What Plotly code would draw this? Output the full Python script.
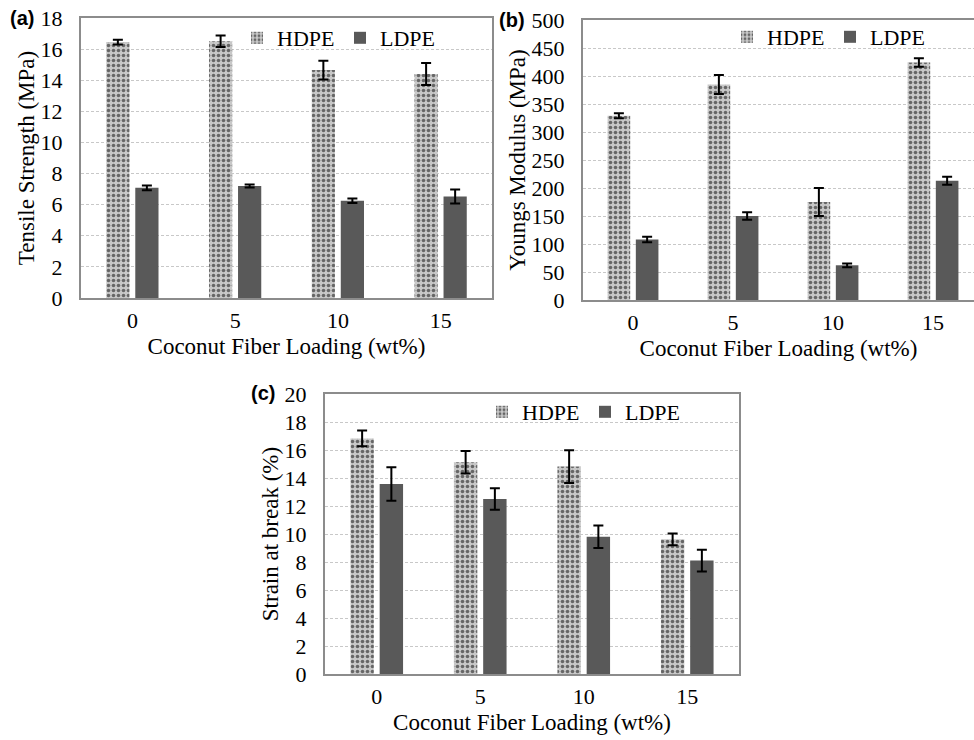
import plotly.graph_objects as go

categories = ["0", "5", "10", "15"]

# (a) Tensile strength (MPa)
ts_hdpe = [16.45, 16.5, 14.65, 14.4]
ts_hdpe_err = [0.15, 0.37, 0.6, 0.7]
ts_ldpe = [7.08, 7.2, 6.25, 6.52]
ts_ldpe_err = [0.16, 0.1, 0.15, 0.45]

# (b) Youngs modulus (MPa)
ym_hdpe = [329, 385, 175, 424]
ym_hdpe_err = [4.5, 17, 25, 7.5]
ym_ldpe = [108, 150, 62, 213]
ym_ldpe_err = [5, 6.5, 3.3, 7]

# (c) Strain at break (%)
sb_hdpe = [16.83, 15.12, 14.82, 9.62]
sb_hdpe_err = [0.56, 0.8, 1.17, 0.42]
sb_ldpe = [13.57, 12.5, 9.8, 8.1]
sb_ldpe_err = [1.2, 0.76, 0.8, 0.78]

FONT = "Liberation Serif, Times New Roman, serif"
HDPE_COLOR = "#c8c8c8"
HDPE_FG = "#666666"
LDPE_COLOR = "#595959"
AXIS_COLOR = "#8c8c8c"
GRID_COLOR = "#c8c8c8"

W, H = 974, 740


def px_x(a, b):
    return [a / W, min(b / W, 1.0)]


def px_y(top, bottom):
    return [1 - bottom / H, 1 - top / H]


fig = go.Figure()

panels = [
    ("x", "y", "legend", ts_hdpe, ts_hdpe_err, ts_ldpe, ts_ldpe_err),
    ("x2", "y2", "legend2", ym_hdpe, ym_hdpe_err, ym_ldpe, ym_ldpe_err),
    ("x3", "y3", "legend3", sb_hdpe, sb_hdpe_err, sb_ldpe, sb_ldpe_err),
]

for xa, ya, lg, h, he, l, le in panels:
    fig.add_trace(go.Bar(
        x=categories, y=h, name="HDPE", xaxis=xa, yaxis=ya, legend=lg,
        marker=dict(color=HDPE_COLOR, line=dict(width=0),
                    pattern=dict(shape=".", fgcolor=HDPE_FG, bgcolor=HDPE_COLOR,
                                 size=5, solidity=0.4, fillmode="replace")),
        error_y=dict(type="data", array=he, color="black", thickness=2, width=5),
    ))
    fig.add_trace(go.Bar(
        x=categories, y=l, name="LDPE", xaxis=xa, yaxis=ya, legend=lg,
        marker=dict(color=LDPE_COLOR, line=dict(width=0)),
        error_y=dict(type="data", array=le, color="black", thickness=2, width=5),
    ))

tick_font = dict(family=FONT, size=22, color="black")
title_font = dict(family=FONT, size=23, color="black")


def xaxis_cfg(domain, anchor, rng, title, mirror=True):
    return dict(domain=domain, anchor=anchor, type="category", range=rng,
                showline=True, linecolor=AXIS_COLOR, linewidth=2, mirror=mirror,
                showgrid=False, ticks="", tickfont=tick_font, automargin=False,
                ticklabelstandoff=2,
                title=dict(text=title, font=title_font, standoff=5),
                fixedrange=True)


def yaxis_cfg(domain, anchor, rng, dtick, title, mirror=True):
    return dict(domain=domain, anchor=anchor, range=rng, dtick=dtick,
                showline=True, linecolor=AXIS_COLOR, linewidth=2, mirror=mirror,
                showgrid=True, gridcolor=GRID_COLOR, griddash="3px,2px", gridwidth=1,
                zeroline=False, ticks="", tickfont=tick_font, automargin=False,
                ticklabelstandoff=12,
                title=dict(text=title, font=title_font, standoff=0),
                fixedrange=True)


xt = "Coconut Fiber Loading (wt%)"
leg_font = dict(family=FONT, size=22, color="black")

fig.update_layout(
    width=W, height=H,
    margin=dict(l=0, r=0, t=0, b=0, autoexpand=False),
    paper_bgcolor="white", plot_bgcolor="white",
    barmode="group", bargap=0.435, bargroupgap=0.2,
    font=dict(family=FONT, color="black"),
    xaxis=xaxis_cfg(px_x(81, 492), "y", [-0.5, 3.5], xt),
    yaxis=yaxis_cfg(px_y(18, 298), "x", [0, 18], 2, "Tensile Strength (MPa)"),
    xaxis2=xaxis_cfg(px_x(583, 974), "y2", [-0.5, 3.41], xt),
    yaxis2=yaxis_cfg(px_y(20, 300), "x2", [0, 500], 50, "Youngs Modulus (MPa)", mirror=False),
    xaxis3=xaxis_cfg(px_x(325, 739), "y3", [-0.5, 3.5], xt),
    yaxis3=yaxis_cfg(px_y(394, 674), "x3", [0, 20], 2, "Strain at break (%)"),
    legend=dict(orientation="h", x=237 / W, y=1 - 17 / H, xanchor="left", yanchor="top",
                font=leg_font, bgcolor="rgba(0,0,0,0)", entrywidth=58, entrywidthmode="pixels",
                traceorder="normal"),
    legend2=dict(orientation="h", x=727 / W, y=1 - 16 / H, xanchor="left", yanchor="top",
                 font=leg_font, bgcolor="rgba(0,0,0,0)", entrywidth=58, entrywidthmode="pixels",
                 traceorder="normal"),
    legend3=dict(orientation="h", x=482 / W, y=1 - 391 / H, xanchor="left", yanchor="top",
                 font=leg_font, bgcolor="rgba(0,0,0,0)", entrywidth=58, entrywidthmode="pixels",
                 traceorder="normal"),
    showlegend=True,
)

labels = [("(a)", 8, 18), ("(b)", 497, 20), ("(c)", 249, 393)]
for t, xp, yp in labels:
    fig.add_annotation(text="<b>" + t + "</b>", x=xp / W, y=1 - yp / H,
                       xref="paper", yref="paper", xanchor="left", yanchor="middle",
                       showarrow=False,
                       font=dict(family="Liberation Sans, Arial, sans-serif", size=20, color="black"))

fig.write_html("out.html", config={"displayModeBar": False},
               post_script="document.body.style.margin='0px';document.body.style.overflow='hidden';")
